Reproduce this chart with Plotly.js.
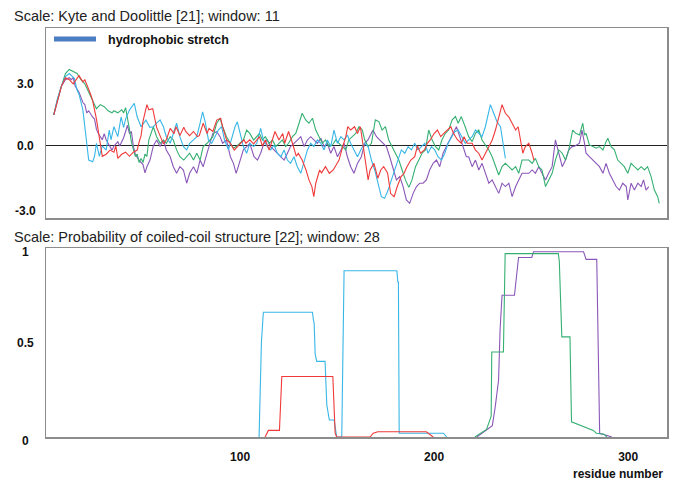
<!DOCTYPE html>
<html><head><meta charset="utf-8">
<script src="https://cdn.plot.ly/plotly-3.0.1.min.js"></script>
<style>body{margin:0;background:#fff}#chart{width:685px;height:486px}</style>
</head><body><div id="chart"></div>
<script>
// ---------- Hydropathy (Kyte & Doolittle), [residue, value] ----------
const kdRed = [[4,1.5],[6,2.2],[8,2.9],[10,3.3],[12,3.2],[14,3.0],[17,3.4],[19,3.1],[20,3.2],[23,2.5],[24,2.2],[26,1.3],[28,0.2],[29,-0.5],[31,-0.4],[33,-0.2],[35,-0.3],[36,0.0],[37,-0.6],[39,-0.4],[41,-0.3],[43,-0.5],[45,-0.3],[47,-0.2],[48,0.2],[49,0.5],[50,1.2],[52,2.0],[53,1.75],[55,1.8],[57,0.9],[59,0.45],[60.5,0.1],[62,0.3],[64,0.85],[66,0.6],[67,0.93],[69,0.5],[71,0.9],[72,0.7],[74,0.5],[76,0.7],[78,0.45],[79,0.5],[81,1.1],[83,0.6],[84,0.85],[86,0.7],[88,1.25],[90,1.34],[91,0.93],[93,0.3],[95,0.13],[97,-0.2],[98,-0.1],[100,0.13],[102,0.3],[103,0.13],[105,0.3],[107,0.1],[109,0.3],[110,0.45],[111.5,0.0],[113,0.29],[115,-0.2],[117,0.45],[118,0.7],[120,0.29],[122,0.6],[123,0.13],[125,0.7],[127,0.13],[129,-0.5],[130,-0.35],[132,-0.68],[134,-1.16],[135.5,-1.64],[137,-1.96],[138,-2.45],[139,-1.8],[141,-1.16],[142,-1.3],[144,-1.0],[146,-1.32],[148,-1.16],[149,-1.0],[151,-0.68],[153,0.0],[154.5,0.45],[155.5,0.93],[157,0.77],[159,0.93],[160.5,0.6],[162,0.93],[163,0.3],[164,-0.2],[165,-1.0],[166,-1.64],[167,-1.16],[169,-0.84],[171,-1.56],[172.5,-1.16],[174,-1.0],[176,-1.3],[177.6,-2.3],[179.4,-2.45],[181,-1.96],[183,-1.48],[184.5,-1.32],[186,-1.0],[188,-0.68],[190,-0.52],[191.4,0.0],[193,-0.35],[195,-0.19],[196.5,0.13],[198,0.29],[200,0.6],[201.7,0.77],[203.4,0.45],[205,0.61],[207,0.77],[208.6,0.93],[210,0.61],[212,0.3],[214,0.13],[215.4,0.45],[217,0.13],[219.6,0.13],[221.3,-0.2],[223,-0.35],[224.7,-0.68],[226.4,-0.35],[228,-0.03],[230,0.3],[231.6,0.77],[233.3,1.4],[235,2.0],[236.7,1.58],[238.5,1.4],[240.2,1.1],[242,0.77],[243.3,0.93],[244.5,0.3],[245.7,-0.35],[247,-0.03],[248.8,0.13],[250.5,-0.35],[251.4,-0.68]];

const kdGreen = [[4,1.5],[6,2.3],[8,2.9],[10,3.5],[12,3.7],[14,3.6],[16,3.5],[18,3.2],[20,3.0],[21,2.8],[23,2.4],[25,2.0],[26,1.8],[28,2.0],[30,1.9],[32,1.7],[34,1.6],[35,1.7],[37,1.6],[39,1.75],[40,1.6],[41,1.85],[42,1.4],[43,0.8],[44,0.2],[45,-0.2],[46,-0.5],[47,-0.4],[48,-0.8],[49,-0.6],[50,-0.8],[51,-0.4],[52,-0.5],[53,0.3],[54,0.6],[55.3,0.93],[57,0.45],[58.8,0.13],[60.5,0.29],[62,0.13],[64,0.45],[65.6,0.29],[67.3,-0.19],[69,-0.52],[71,-0.68],[72.5,-0.52],[74,-0.35],[76,-0.68],[77.7,-0.35],[79.4,-0.68],[81,-0.03],[83,0.13],[84.5,0.29],[86,0.45],[88,1.1],[89.7,1.34],[91,0.93],[93,0.45],[95,0.13],[96.6,-0.11],[98,-0.03],[100,0.13],[101.7,0.29],[103.4,0.77],[105,0.61],[107,0.29],[108.6,0.45],[110,0.6],[111.5,0.29],[113,0.45],[115,0.13],[116.7,0.29],[118.4,-0.03],[120,0.13],[121.8,0.29],[123.5,-0.03],[125,0.13],[127,0.45],[128.7,0.61],[130.4,1.1],[132,1.58],[133.8,1.26],[135.5,1.1],[137.3,1.34],[139,0.77],[140.7,0.45],[142.4,0.13],[144,0.29],[145.9,-0.03],[147.6,0.05],[149.3,0.29],[151,0.13],[152.7,-0.03],[154.5,-0.19],[156,0.29],[157.9,0.45],[159.6,0.61],[161.3,0.93],[163,0.77],[164.2,0.3],[166,-0.03],[167.7,0.13],[169.7,1.26],[171.5,1.18],[173.2,0.77],[174.9,0.93],[176.6,0.29],[178.3,-0.03],[180,-0.35],[181.8,-0.68],[183.5,-1.16],[185.2,-1.64],[187,-2.0],[188.6,-1.64],[190.4,-1.0],[192,-0.68],[193.8,-0.35],[195.5,-0.19],[197.2,0.77],[199,0.29],[200.7,-0.03],[202.4,-0.19],[204,0.29],[205.8,0.61],[207.5,0.77],[209.3,1.26],[211,1.42],[212.4,1.1],[214,1.42],[216,0.93],[217.8,0.45],[219.6,0.21],[221.3,0.61],[223,0.77],[224.7,0.29],[226.4,0.05],[228.2,-0.19],[229.9,-0.52],[231.6,-1.0],[233.3,-1.4],[235,-1.0],[236.7,-0.84],[238.5,-1.0],[240.2,-1.16],[242,-1.0],[243.6,-1.32],[245.3,-0.68],[247,-0.68],[248.8,-0.68],[250.5,-0.84],[252.2,-0.6],[253.9,-1.0],[255.6,-1.16],[257.4,-1.96],[259,-1.64],[260.8,-1.32],[262.5,-0.68],[264.2,-0.19],[266,-0.35],[267.7,-0.68],[269.4,-0.19],[271.4,0.77],[273,0.61],[274.9,0.53],[276.6,1.1],[277.5,0.53],[278.3,0.61],[280,0.05],[281.8,-0.03],[283.5,-0.11],[285.2,-0.03],[287,-0.19],[288.6,0.21],[289.5,0.37],[291.2,-0.03],[292.9,-0.19],[294.6,-0.68],[296.4,-0.84],[298,-1.0],[299.8,-1.32],[301.5,-0.84],[303.2,-1.0],[305,-1.16],[306.7,-1.0],[308.4,-1.16],[310,-1.0],[311.8,-1.48],[313.5,-2.13],[315.2,-2.45],[316,-2.77]];

const kdCyan = [[4,1.5],[6,2.3],[8,2.9],[10,3.35],[12,3.5],[14.6,3.27],[16,2.7],[17,2.5],[19,1.74],[20,0.93],[21,0.0],[22,-0.68],[24,-0.76],[25,-0.5],[26,0.13],[27.5,-0.5],[29,0.0],[31,-0.2],[32.6,0.77],[33.5,0.3],[35,0.93],[37,0.45],[38.7,1.4],[40,0.9],[41,1.3],[43,1.74],[45.5,2.06],[47,1.4],[49,0.93],[51.5,1.25],[53.5,0.9],[55.3,0.93],[57,1.1],[58.8,1.26],[60.5,0.93],[62,0.45],[64,0.13],[65.6,0.61],[67.3,1.1],[69,0.45],[70.8,-0.03],[72.5,-0.19],[74,0.13],[76,0.29],[77.7,0.45],[79.4,1.1],[80.7,1.65],[82,1.18],[83.7,0.29],[85.4,0.13],[87,0.45],[88.8,0.77],[90.5,0.93],[92,0.29],[94,-0.19],[95.7,0.37],[97.4,0.93],[98.6,1.17],[100,0.61],[101.7,-0.03],[103.4,-0.35],[105,0.13],[107,-0.03],[108.6,0.13],[110.6,0.85],[112,0.29],[114,-0.03],[115.8,-0.19],[117.5,0.05],[119.2,-0.35],[121,-0.52],[122.7,-0.19],[124.4,-0.68],[126,-0.84],[127.8,-0.52],[129.5,-1.0],[131.3,-1.32],[133,-0.68],[134.7,-0.19],[136.4,0.13],[138,-0.03],[139.8,0.29],[141.6,0.13],[143.3,-0.19],[145,0.29],[146.7,-0.03],[148.4,0.77],[150.2,0.13],[151.9,0.45],[153.6,0.29],[155.3,0.53],[157,0.13],[158.7,-0.19],[160.5,-0.52],[162.2,-0.19],[164,0.13],[166,-0.03],[167.7,-0.68],[169.4,-1.16],[171.1,-1.8],[172.8,-2.45],[174.5,-2.53],[176.3,-2.13],[178,-1.64],[179.7,-1.16],[181.4,-0.68],[183.1,-0.19],[184.9,-0.35],[186.6,-0.03],[188.3,-0.19],[190,0.13],[191.7,-0.19],[193.5,-0.03],[195.2,0.13],[196.9,-0.35],[198.6,-0.03],[200.3,-0.19],[202,-0.52],[203.8,-0.68],[205.5,-0.35],[207.2,0.13],[209,0.45],[210.6,0.69],[212.4,0.77],[214,0.45],[216,0.13],[217.8,0.29],[219.6,0.45],[221.3,0.77],[223,0.61],[224.7,0.45],[226.4,0.93],[227.8,1.5],[229,2.0],[230.7,1.58],[232.4,1.17],[234.2,0.93],[235.4,0.13],[236.7,-0.6]];

const kdPurple = [[4,1.5],[6,2.2],[8,2.9],[10,3.2],[12,3.3],[13,3.2],[14,3.3],[15,2.9],[17,2.6],[19,2.1],[20,2.0],[21,1.6],[22,1.7],[24,1.4],[25,1.3],[26,0.8],[27,0.6],[29,0.3],[30,0.6],[31,0.3],[33,0.0],[34,-0.2],[35,0.0],[37,0.2],[38,0.0],[40,0.4],[42,1.0],[43,0.6],[44,0.7],[45,0.0],[46,-0.4],[48,-0.7],[50,-0.9],[51,-1.3],[52,-1.0],[53.6,-0.68],[55.3,0.0],[57,0.29],[58.8,-0.03],[60.5,0.29],[62,-0.19],[64,-0.52],[65.6,-1.0],[67.3,-1.32],[69,-1.0],[70.8,-1.16],[72.5,-1.8],[74,-1.32],[76,-1.0],[77.7,-1.32],[79.4,-0.68],[81,-1.0],[83,-0.35],[84.5,0.13],[86,0.61],[88,0.69],[89.7,0.45],[91,0.13],[93,0.29],[95,-0.52],[96.6,-0.84],[98,-1.32],[100,-0.68],[101.7,-0.19],[103.4,-0.03],[105,0.13],[107.2,-0.52],[109,-0.68],[110.6,-0.35],[112.3,0.13],[114,0.29],[115.8,-0.03],[117.5,-0.19],[119.2,-0.35],[121,-0.52],[122.7,-0.68],[124.4,-0.35],[126,-0.03],[127.8,0.13],[129.5,0.29],[131.3,0.45],[133,-0.03],[134.7,0.29],[136.4,0.45],[138,0.29],[139.8,0.13],[141.6,0.37],[143.3,-0.03],[145,0.13],[146.7,-0.35],[148.4,-0.03],[150.2,-0.52],[152,-0.19],[153.6,0.13],[155.3,-0.52],[157,-1.0],[158.7,-1.32],[160.5,-0.84],[162.5,-0.52],[164.2,0.13],[165.9,0.29],[168.5,0.77],[170.3,0.45],[172,0.29],[173.7,0.13],[175.4,-0.03],[177.1,-0.52],[178.9,-1.16],[180.6,-1.64],[182.3,-1.48],[184,-1.96],[185.7,-2.61],[187.4,-2.77],[189.2,-2.29],[190.9,-1.96],[192.6,-1.8],[194.3,-1.8],[196,-1.64],[197.7,-1.16],[199.5,-0.84],[201.2,-0.68],[202.9,-1.0],[204.6,-0.35],[206.3,-0.03],[208,0.29],[209.8,0.61],[211.5,0.93],[213.2,0.45],[214.9,-0.03],[216.6,-0.52],[217.8,-0.52],[219.6,-1.0],[221.3,-0.68],[223,-1.16],[224.7,-0.84],[226.4,-1.32],[228.2,-1.8],[229.9,-1.64],[231.6,-1.96],[233.3,-2.29],[235,-1.8],[236.7,-1.96],[238.5,-1.8],[240.2,-2.45],[242,-1.96],[243.6,-1.64],[245.3,-1.32],[247,-1.32],[248.8,-1.32],[250.5,-1.16],[252.2,-1.32],[253.9,-1.0],[255.6,-1.32],[257.4,-1.64],[259,-1.32],[260.8,-1.0],[262.5,0.29],[264.2,-0.35],[266,-1.0],[267.7,-0.68],[269.4,-0.19],[271.1,-0.03],[272.6,0.0],[274.9,0.13],[276.2,0.77],[277.5,0.13],[278.3,-0.35],[280,-0.52],[281.8,-0.68],[283.5,-0.84],[285.2,-1.0],[287,-1.32],[288.6,-0.84],[290.3,-1.32],[292,-1.64],[293.8,-1.96],[295.5,-2.13],[297.2,-1.8],[299,-1.96],[299.8,-2.61],[301.5,-1.8],[303.2,-2.13],[305,-1.8],[306.7,-1.96],[307.9,-1.64],[309.2,-2.13],[310.6,-1.96]];

// ---------- Coiled-coil probability, [residue, probability] ----------
const ccCyan = [[109.8,0],[110.5,0.36],[111,0.5],[112,0.66],[137.3,0.66],[137.8,0.62],[138.2,0.6],[138.7,0.44],[139.5,0.4],[143.8,0.4],[144.7,0.17],[146,0.09],[148.5,0.09],[149.8,0],[152.4,0],[153.6,0.88],[180.8,0.88],[181.3,0.82],[181.6,0.82],[182,0.02],[204.8,0.02],[206.5,0]];
const ccRed = [[112.9,0],[114.6,0.035],[120.3,0.035],[121.5,0.32],[147.8,0.32],[149,0.02],[149.8,0],[167,0],[168.6,0.02],[171,0.028],[196,0.028],[199.5,0]];
const ccGreen = [[221,0],[227,0.04],[229.4,0.11],[229.7,0.45],[235.7,0.45],[236.6,0.97],[264,0.97],[264.5,0.93],[265.8,0.53],[270,0.53],[270.8,0.08],[278.7,0.05],[282,0.035],[283.6,0.02],[287.6,0.015],[289,0]];
const ccPurple = [[222,0],[230,0.06],[231.5,0.16],[233.2,0.3],[234,0.57],[235,0.75],[241.4,0.75],[243.5,0.95],[250.3,0.95],[251.2,0.98],[277,0.98],[278.3,0.94],[283.8,0.94],[285.3,0.02],[291.6,0]];

const seriesColors = {red:'#f03a3a', green:'#35b072', purple:'#8a57b8', cyan:'#38b7e6'};
const kdTicks = [3, 0, -3], kdTickText = ['3.0', '0.0', '-3.0'];
const ccTicks = [1, 0.5, 0], ccTickText = ['1', '0.5', '0'];
const resTicks = [100, 200, 300], resTickText = ['100', '200', '300'];
const title1 = 'Scale: Kyte and Doolittle [21]; window: 11';
const title2 = 'Scale: Probability of coiled-coil structure [22]; window: 28';
const legendText = 'hydrophobic stretch';
const xLabel = 'residue number';

function line(pairs, color, xa, ya) {
  return {x: pairs.map(p => p[0]), y: pairs.map(p => p[1]), type: 'scatter', mode: 'lines',
          line: {color: color, width: 1.1}, xaxis: xa, yaxis: ya, hoverinfo: 'skip'};
}
const data = [
  line(kdPurple, seriesColors.purple, 'x', 'y'),
  line(kdGreen, seriesColors.green, 'x', 'y'),
  line(kdCyan, seriesColors.cyan, 'x', 'y'),
  line(kdRed, seriesColors.red, 'x', 'y'),
  line(ccPurple, seriesColors.purple, 'x2', 'y2'),
  line(ccGreen, seriesColors.green, 'x2', 'y2'),
  line(ccCyan, seriesColors.cyan, 'x2', 'y2'),
  line(ccRed, seriesColors.red, 'x2', 'y2')
];

const F = 'Liberation Sans, Arial, sans-serif';
const frame = {showline: true, mirror: true, linecolor: '#8c8c8c', linewidth: 1.5, showgrid: false, ticks: '', fixedrange: true};
// plot area: x 46..667 px, y 28..437 px
const W = 621, H = 409;
const px = x => (x - 46) / W;
const py = y => (437 - y) / H;

const annotations = [];
annotations.push({xref:'paper', yref:'paper', x:px(12), y:py(16), xanchor:'left', yanchor:'middle', text:title1, showarrow:false, font:{family:F, size:14.5, color:'#222'}});
annotations.push({xref:'paper', yref:'paper', x:px(12), y:py(237), xanchor:'left', yanchor:'middle', text:title2, showarrow:false, font:{family:F, size:14.5, color:'#222'}});
annotations.push({xref:'paper', yref:'paper', x:px(106), y:py(40), xanchor:'left', yanchor:'middle', text:legendText, showarrow:false, font:{family:F, size:12.5, color:'#111', weight:'bold'}});
annotations.push({xref:'paper', yref:'paper', x:px(665), y:py(474), xanchor:'right', yanchor:'middle', text:xLabel, showarrow:false, font:{family:F, size:12, color:'#111', weight:'bold'}});
kdTicks.forEach((v, i) => annotations.push({xref:'paper', yref:'y', x:px(25), y:v, xanchor:'center', yanchor:'middle', text:kdTickText[i], showarrow:false, yshift: v === -3 ? -3 : 0, font:{family:F, size:12, color:'#111', weight:'bold'}}));
ccTicks.forEach((v, i) => annotations.push({xref:'paper', yref:'y2', x:px(25), y:v, xanchor:'center', yanchor:'middle', text:ccTickText[i], showarrow:false, yshift: (v === 1 || v === 0) ? -4 : 0, font:{family:F, size:12, color:'#111', weight:'bold'}}));

const layout = {
  width: 685, height: 486,
  margin: {l: 46, r: 18, t: 28, b: 49},
  paper_bgcolor: '#fff', plot_bgcolor: '#fff',
  showlegend: false,
  xaxis: Object.assign({}, frame, {domain:[0,1], range:[0,320], anchor:'y', showticklabels:false, zeroline:false}),
  yaxis: Object.assign({}, frame, {domain:[py(218),1], range:[-3.48,5.70], anchor:'x', showticklabels:false, zeroline:true, zerolinecolor:'#222', zerolinewidth:1}),
  xaxis2: Object.assign({}, frame, {domain:[0,1], range:[0,320], anchor:'y2', tickvals:resTicks, ticktext:resTickText, ticklabelstandoff:8, zeroline:false,
           tickfont:{family:F, size:12, color:'#111', weight:'bold'}}),
  yaxis2: Object.assign({}, frame, {domain:[0,py(248)], range:[0,1.0], anchor:'x2', showticklabels:false, zeroline:false}),
  shapes: [{type:'line', xref:'paper', yref:'paper', x0:px(54), x1:px(96), y0:py(39), y1:py(39), line:{color:'#4a7dc2', width:5}}],
  annotations: annotations
};
Plotly.newPlot('chart', data, layout, {staticPlot: true, displayModeBar: false});
</script>
</body></html>
